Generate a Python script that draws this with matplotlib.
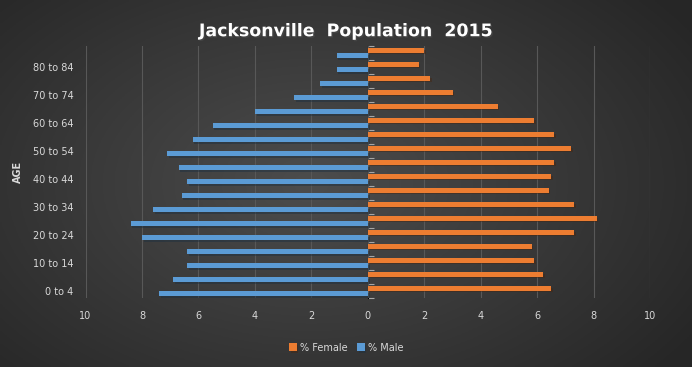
import numpy as np
import matplotlib
matplotlib.use("Agg")
import matplotlib.pyplot as plt
import matplotlib.patheffects as pe

# ── Data ────────────────────────────────────────────────
age_groups = ['0 to 4', '5 to 9', '10 to 14', '15 to 19', '20 to 24', '25 to 29',
              '30 to 34', '35 to 39', '40 to 44', '45 to 49', '50 to 54', '55 to 59',
              '60 to 64', '65 to 69', '70 to 74', '75 to 79', '80 to 84', '85 and over']
pct_female = [6.5, 6.2, 5.9, 5.8, 7.3, 8.1, 7.3, 6.4, 6.5, 6.6, 7.2, 6.6,
              5.9, 4.6, 3.0, 2.2, 1.8, 2.0]
pct_male = [7.4, 6.9, 6.4, 6.4, 8.0, 8.4, 7.6, 6.6, 6.4, 6.7, 7.1, 6.2,
            5.5, 4.0, 2.6, 1.7, 1.1, 1.1]
x_ticks = [-10, -8, -6, -4, -2, 0, 2, 4, 6, 8, 10]

ORANGE = '#ED7D31'
BLUE = '#5B9BD5'
TXT = '#d9d9d9'

plt.rcParams['font.family'] = ['DejaVu Sans']

fig = plt.figure(figsize=(6.92, 3.67), dpi=100)

# ── Background: dark radial gradient ────────────────────
bg = fig.add_axes([0, 0, 1, 1], zorder=-10)
gx, gy = np.meshgrid(np.linspace(0, 1, 300), np.linspace(0, 1, 160))
r = np.sqrt(((gx - 0.45) / 0.75) ** 2 + ((gy - 0.5) / 0.9) ** 2)
shade = np.clip(0.30 - 0.17 * r, 0.15, 0.30)
bg.imshow(np.dstack([shade] * 3), extent=[0, 1, 0, 1], aspect='auto', origin='lower')
bg.axis('off')

# ── Main axes ───────────────────────────────────────────
ax = fig.add_axes([0.1236, 0.188, 0.816, 0.6866])
ax.set_facecolor('none')

y = np.arange(len(age_groups))
shadow = [pe.SimplePatchShadow(offset=(1.2, -1.2), alpha=0.45), pe.Normal()]

b_f = ax.barh(y + 0.19, pct_female, height=0.33, color=ORANGE, label='% Female', zorder=3)
b_m = ax.barh(y - 0.18, -np.array(pct_male), height=0.33, color=BLUE, label='% Male', zorder=3)
for bar in list(b_f) + list(b_m):
    bar.set_path_effects(shadow)

ax.set_xlim(-10, 10)
ax.set_ylim(-0.5, len(age_groups) - 0.5)
ax.set_xticks(x_ticks)
ax.set_xticklabels([str(abs(v)) for v in x_ticks])
ax.grid(axis='x', color='#585858', lw=0.8, zorder=0)
ax.set_axisbelow(True)

# y labels every other group
ax.set_yticks(y[::2])
ax.set_yticklabels(age_groups[::2])
ax.tick_params(axis='both', length=0, colors=TXT, labelsize=7)
ax.tick_params(axis='x', pad=9)
ax.tick_params(axis='y', pad=8.5)
for s in ax.spines.values():
    s.set_visible(False)

# centre axis line with category ticks
mid = ax.secondary_yaxis(0.5)
mid.set_yticks(np.arange(len(age_groups) + 1) - 0.5)
mid.set_yticklabels([])
mid.tick_params(axis='y', length=4, width=0.8, color='#a6a6a6', direction='out')
mid.spines['left'].set_color('#a6a6a6')
mid.spines['left'].set_linewidth(0.8)

ax.set_ylabel('AGE', color=TXT, fontsize=7, fontweight='bold', labelpad=7)

fig.text(0.5, 0.915, 'Jacksonville  Population  2015', ha='center', va='center',
         color='white', fontsize=12.5, fontweight='bold',
         path_effects=[pe.SimplePatchShadow(offset=(1, -1), alpha=0.6), pe.Normal()])

leg = ax.legend(handles=[b_f, b_m], loc='center', bbox_to_anchor=(0.5, 0.053),
                bbox_transform=fig.transFigure, ncol=2, frameon=False,
                fontsize=7, handlelength=0.8, handleheight=0.8,
                handletextpad=0.3, columnspacing=1.0)
for t in leg.get_texts():
    t.set_color(TXT)

fig.savefig('out.png', dpi=100)
